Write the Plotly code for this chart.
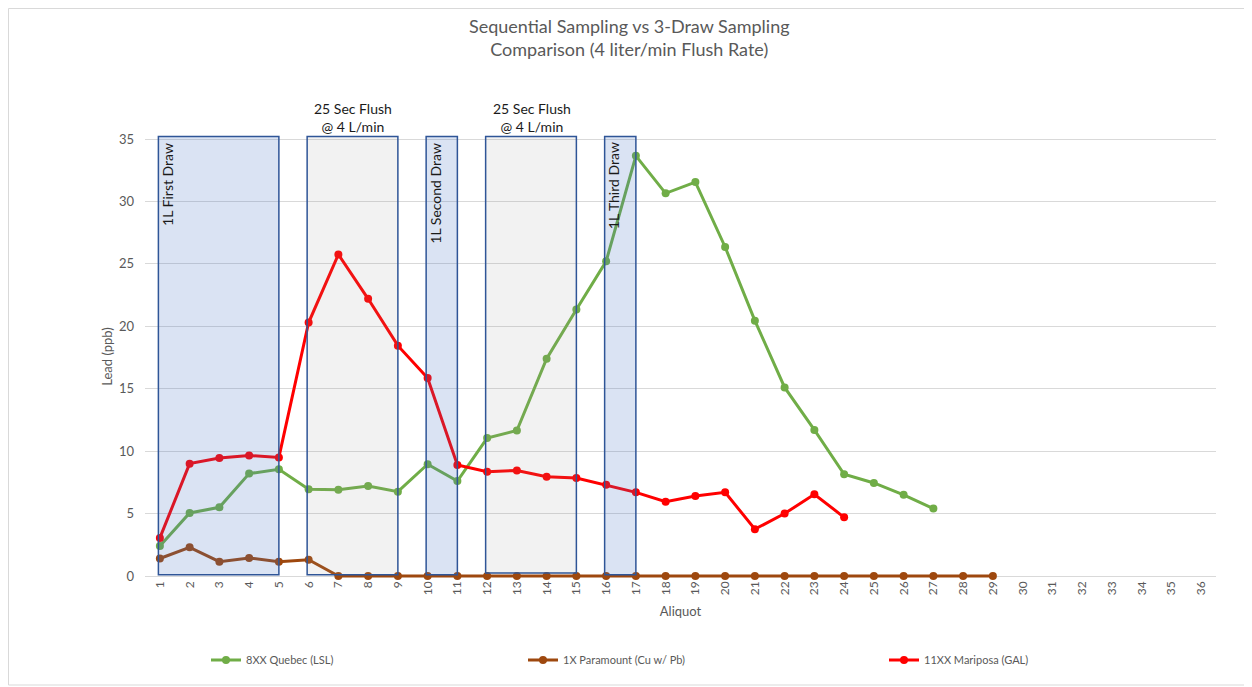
import plotly.graph_objects as go

# ---------------- data ----------------
aliquots = list(range(1, 37))
tick_labels = [str(a) for a in aliquots]

quebec_name = "8XX Quebec (LSL)"
quebec_x = list(range(1, 28))
quebec_lead = [2.4, 5.05, 5.5, 8.2, 8.55, 6.95, 6.9, 7.2, 6.75, 8.95, 7.6, 11.05, 11.65,
               17.4, 21.35, 25.2, 33.65, 30.65, 31.55, 26.35, 20.45, 15.1, 11.7, 8.15,
               7.45, 6.5, 5.4]

paramount_name = "1X Paramount (Cu w/ Pb)"
paramount_x = list(range(1, 30))
paramount_lead = [1.4, 2.3, 1.15, 1.45, 1.15, 1.3, 0, 0, 0, 0, 0, 0, 0, 0, 0, 0, 0, 0,
                  0, 0, 0, 0, 0, 0, 0, 0, 0, 0, 0]

mariposa_name = "11XX Mariposa (GAL)"
mariposa_x = list(range(1, 25))
mariposa_lead = [3.05, 9.0, 9.45, 9.65, 9.5, 20.3, 25.75, 22.2, 18.45, 15.85, 8.9, 8.35,
                 8.45, 7.95, 7.85, 7.3, 6.7, 5.95, 6.4, 6.7, 3.75, 5.0, 6.55, 4.7]

# sampling phases (aliquot ranges)
band_start = [1, 6, 10, 12, 16]
band_end = [5, 9, 11, 15, 17]
band_kind = ["draw", "flush", "draw", "flush", "draw"]
band_label = ["1L First Draw", "25 Sec Flush<br>@ 4 L/min", "1L Second Draw",
              "25 Sec Flush<br>@ 4 L/min", "1L Third Draw"]
band_top = 35.2
band_bottom = [0.1, 0.1, 0.1, 0.25, 0.1]

title_text = "Sequential Sampling vs 3-Draw Sampling<br>Comparison (4 liter/min Flush Rate)"

# ---------------- layout geometry (figure pixels) ----------------
W, H = 1244, 679
PL, PR, PT, PB = 137, 1208, 127, 570   # plot area edges
PW, PH = PR - PL, PB - PT


def px_x(p):
    return (p - PL) / PW


def px_y(p):
    return (PB - p) / PH


FONT = "Lato, 'Open Sans', sans-serif"
GREY = "#595959"

fig = go.Figure()

series = [
    (quebec_name, quebec_x, quebec_lead, "#70AD47", "legend"),
    (paramount_name, paramount_x, paramount_lead, "#9E480E", "legend2"),
    (mariposa_name, mariposa_x, mariposa_lead, "#FF0000", "legend3"),
]
for name, xs, ys, col, lg in series:
    fig.add_trace(go.Scatter(
        x=xs, y=ys, name=name, mode="lines+markers",
        line=dict(color=col, width=3),
        marker=dict(color=col, size=8),
        cliponaxis=False, legend=lg, showlegend=True,
    ))

shapes = []
annotations = []
for s, e, k, lab, b in zip(band_start, band_end, band_kind, band_label, band_bottom):
    fill = "rgba(68,114,196,0.2)" if k == "draw" else "rgba(150,150,150,0.12)"
    shapes.append(dict(type="rect", xref="x", yref="y", x0=s - 0.05, x1=e, y0=b, y1=band_top,
                       fillcolor=fill, line=dict(color="#2F5597", width=1.5), layer="above"))
    if k == "draw":
        annotations.append(dict(x=s - 0.05, y=band_top, xref="x", yref="y", text=lab,
                                textangle=-90, showarrow=False, xanchor="left", yanchor="top",
                                xshift=-2, yshift=-4,
                                font=dict(family=FONT, size=14, color="#1a1a1a")))
    else:
        annotations.append(dict(x=(s + e) / 2, y=band_top, xref="x", yref="y", text=lab,
                                showarrow=False, xanchor="center", yanchor="bottom", yshift=0,
                                font=dict(family=FONT, size=14, color="#1a1a1a")))

# chart title
annotations.append(dict(x=px_x(621), y=px_y(30), xref="paper", yref="paper", text=title_text,
                        showarrow=False, xanchor="center", yanchor="middle",
                        font=dict(family=FONT, size=18, color=GREY)))

# chart-area border (left, top, bottom edges; right edge lies off-page)
border = dict(type="line", xref="paper", yref="paper",
              line=dict(color="#D9D9D9", width=1), layer="below")
shapes.append(dict(border, x0=px_x(0.5), x1=px_x(0.5), y0=px_y(677), y1=px_y(0.5)))
shapes.append(dict(border, x0=px_x(0.5), x1=px_x(W), y0=px_y(0.5), y1=px_y(0.5)))
shapes.append(dict(border, x0=px_x(0.5), x1=px_x(W), y0=px_y(677), y1=px_y(677)))

legend_common = dict(y=px_y(652), xanchor="left", yanchor="middle", orientation="h",
                     font=dict(family=FONT, size=11, color=GREY), bgcolor="rgba(0,0,0,0)")

fig.update_layout(
    width=W, height=H,
    margin=dict(l=PL, r=W - PR, t=PT, b=H - PB),
    paper_bgcolor="white", plot_bgcolor="white",
    font=dict(family=FONT, color=GREY),
    showlegend=True,
    xaxis=dict(range=[0.5, 36.5], tickmode="array", tickvals=aliquots, ticktext=tick_labels,
               tickangle=-90, showgrid=False, zeroline=False, showline=False,
               tickfont=dict(family=FONT, size=12, color=GREY),
               title=dict(text="Aliquot", font=dict(family=FONT, size=13, color=GREY), standoff=12)),
    yaxis=dict(range=[-0.16, 35.32], tickmode="array", tickvals=[0, 5, 10, 15, 20, 25, 30, 35],
               showgrid=True, gridcolor="#D9D9D9", gridwidth=1, zeroline=False, showline=False,
               ticklabelstandoff=10,
               tickfont=dict(family=FONT, size=13, color=GREY),
               title=dict(text="Lead (ppb)", font=dict(family=FONT, size=13, color=GREY), standoff=3)),
    shapes=shapes,
    annotations=annotations,
    legend=dict(x=px_x(198), **legend_common),
    legend2=dict(x=px_x(515), **legend_common),
    legend3=dict(x=px_x(876), **legend_common),
)

fig.write_html("out.html")
